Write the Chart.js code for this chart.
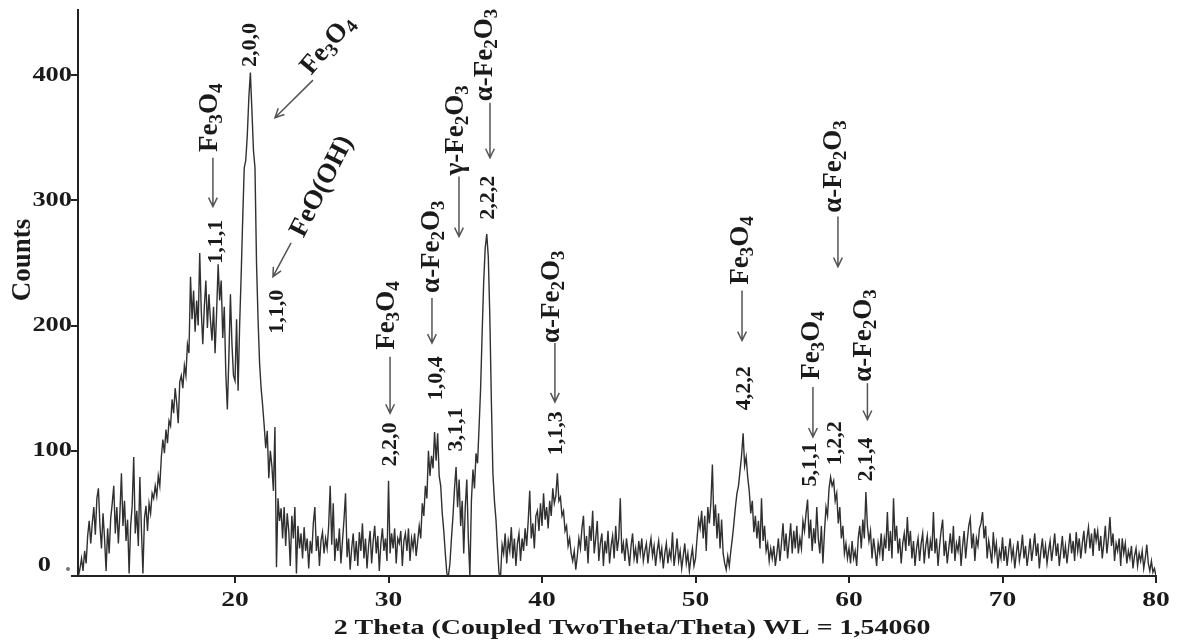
<!DOCTYPE html>
<html><head><meta charset="utf-8">
<script src="https://cdn.jsdelivr.net/npm/chart.js@4.4.1/dist/chart.umd.min.js"></script>
<style>html,body{margin:0;padding:0;background:#fff;}#wrap{width:1178px;height:643px;position:relative;}</style>
</head><body><div id="wrap"><canvas id="c"></canvas></div>
<script>
// ---- data (2θ sampled from 9.8 to 80.0, step 0.1) ----
const twoThetaStart = 9.8, twoThetaStep = 0.1;
const counts_10_15 = [0,6,14,4,20,10,32,44,26,42, 55,33,62,70,40,22,50,30,4,38, 18,46,58,72,34,55,26,50,82,40, 60,28,45,2,40,56,95,34,52,24, 79,38,2,46,56,36,58,50,66,62, 72,64];
const counts_15_20 = [80,72,95,109,98,117,106,124,120,141, 130,150,138,122,155,160,150,168,160,185, 178,239,205,228,195,220,200,258,212,185, 215,236,198,225,204,188,215,178,210,249, 220,236,190,215,162,133,175,225,185,160];
const counts_20_25 = [156,205,148,200,240,285,326,332,352,382, 402,372,340,326,250,205,170,150,136,120, 102,116,78,100,88,68,119,7,62,44, 54,30,55,24,50,36,8,48,30,55, 2,40,22,34,14,39,20,30,6,28];
const counts_25_30 = [18,42,55,20,32,8,28,35,18,30, 22,40,72,25,58,12,30,20,38,10, 28,45,66,15,30,5,22,34,12,28, 8,35,20,42,14,30,6,24,36,10, 28,40,18,32,4,26,38,20,30,12];
const counts_30_35 = [76,18,34,22,38,10,30,26,36,8, 28,34,20,38,12,30,22,34,16,28, 40,30,58,48,72,62,100,80,96,86, 115,92,114,80,72,50,36,18,2,0, 10,30,48,70,87,55,77,40,60,18];
const counts_35_40 = [55,77,30,0,60,85,70,98,90,119, 150,194,235,262,273,255,207,140,82,60, 45,22,2,0,25,18,34,10,28,20, 39,14,30,8,26,34,12,30,20,38, 24,44,68,30,42,22,48,52,36,58];
const counts_40_45 = [40,66,45,55,38,60,48,70,58,64, 82,60,63,48,52,36,40,24,30,18, 12,20,5,16,30,22,38,48,20,32, 10,40,28,52,18,30,44,12,26,34, 8,28,18,36,10,24,32,14,40,20];
const counts_45_50 = [30,62,18,26,12,30,20,8,24,34, 14,22,10,28,18,30,12,20,26,10, 22,30,16,24,8,20,28,14,22,6, 18,26,10,20,14,35,8,18,30,12, 20,6,16,26,10,18,4,14,22,8];
const counts_50_55 = [14,30,45,38,52,30,48,20,55,42, 58,89,40,57,30,50,22,45,18,10, 5,16,8,20,30,42,55,66,72,84, 96,114,88,95,79,68,50,60,35,48, 30,44,22,62,28,40,20,26,12,22];
const counts_55_60 = [14,24,8,18,30,12,26,42,20,34, 14,28,42,18,36,22,40,18,30,22, 44,36,50,61,30,45,20,38,26,55, 30,18,40,10,35,55,48,70,79,72, 76,60,66,42,55,30,40,18,26,14];
const counts_60_65 = [22,10,28,14,20,8,30,40,22,45, 30,67,40,28,36,14,30,20,8,26, 18,34,12,30,22,51,20,36,14,62, 28,40,18,30,10,26,34,20,47,24, 36,14,28,8,22,30,12,26,34,10];
const counts_65_70 = [24,32,14,28,20,51,18,30,8,24, 36,45,16,28,10,22,34,18,40,12, 26,20,32,8,24,36,14,28,40,46, 22,34,12,30,24,38,42,51,30,40, 14,28,20,10,35,18,26,6,20,14];
const counts_70_75 = [31,12,24,8,20,30,14,22,6,18, 28,12,20,33,14,24,8,18,30,12, 22,34,16,26,6,20,30,14,24,10, 20,28,12,22,34,16,26,8,20,32, 14,24,10,22,34,18,28,12,35,20];
const counts_75_80 = [30,14,26,36,18,30,39,22,34,16, 38,28,36,20,32,14,26,40,18,30, 47,24,34,12,26,20,30,8,30,18, 26,10,20,14,24,6,16,22,8,18, 12,20,6,14,25,10,4,12,3,6, 0];

const xTickValues = [20,30,40,50,60,70,80];
const yTickValues = [0,100,200,300,400];
const xTitle = '2 Theta (Coupled TwoTheta/Theta) WL = 1,54060';
const yTitle = 'Counts';

// phase labels: parts [text, isSubscript], position (2θ, counts)
const phaseLabels = [
  {parts:[['Fe'],['3',1],['O'],['4',1]], x:18.37, y:366},
  {parts:[['Fe'],['3',1],['O'],['4',1]], x:26.06, y:424, angle:-50},
  {parts:[['FeO(OH)']], x:25.67, y:311, angle:-63},
  {parts:[['Fe'],['3',1],['O'],['4',1]], x:29.9, y:208},
  {parts:[['α-Fe'],['2',1],['O'],['3',1]], x:32.83, y:263},
  {parts:[['γ-Fe'],['2',1],['O'],['3',1]], x:34.39, y:356},
  {parts:[['α-Fe'],['2',1],['O'],['3',1]], x:36.28, y:416},
  {parts:[['α-Fe'],['2',1],['O'],['3',1]], x:40.65, y:223},
  {parts:[['Fe'],['3',1],['O'],['4',1]], x:52.96, y:260},
  {parts:[['Fe'],['3',1],['O'],['4',1]], x:57.59, y:184},
  {parts:[['α-Fe'],['2',1],['O'],['3',1]], x:59.02, y:327},
  {parts:[['α-Fe'],['2',1],['O'],['3',1]], x:61.0, y:192}
];
const millerLabels = [
  ['1,1,1',18.76,267],['2,0,0',21.0,424],['1,1,0',22.73,211],['2,2,0',30.1,105],
  ['1,0,4',33.09,158],['3,1,1',34.39,117],['2,2,2',36.48,302],['1,1,3',40.91,114],
  ['4,2,2',53.16,150],['5,1,1',57.46,89],['1,2,2',59.09,106],['2,1,4',61.1,93]
];
const arrows = [
  [18.56,334,18.56,295],[25.08,396,22.6,366],[23.65,266,22.47,239],[30.1,175,30.1,130],
  [32.83,222,32.83,186],[34.59,319,34.59,271],[36.61,378,36.61,334],[40.84,186,40.84,139],
  [53.03,228,53.03,188],[57.65,151,57.65,111],[59.28,287,59.28,247],[61.2,154,61.2,125]
];

const allCounts = [].concat(counts_10_15,counts_15_20,counts_20_25,counts_25_30,counts_30_35,counts_35_40,
  counts_40_45,counts_45_50,counts_50_55,counts_55_60,counts_60_65,counts_65_70,counts_70_75,counts_75_80);
const points = allCounts.map((v,i)=>({x: Math.round((twoThetaStart + i*twoThetaStep)*10)/10, y: v}));

const SERIF = '"Liberation Serif","Times New Roman",serif';
function drawText(ctx, parts, cx, cy, angleDeg, size, sx, align, color){
  ctx.save();
  ctx.translate(cx, cy);
  ctx.scale(sx, 1);
  ctx.rotate((angleDeg||0)*Math.PI/180);
  const fm = 'bold '+size+'px '+SERIF, fs = 'bold '+Math.round(size*0.7)+'px '+SERIF;
  let w = 0;
  parts.forEach(p=>{ctx.font = p[1]?fs:fm; w += ctx.measureText(p[0]).width;});
  let x = align==='right' ? -w : -w/2;
  ctx.textBaseline = 'middle'; ctx.textAlign = 'left'; ctx.fillStyle = color||'#1a1a1a';
  parts.forEach(p=>{ctx.font = p[1]?fs:fm; ctx.fillText(p[0], x, p[1]? size*0.26 : 0); x += ctx.measureText(p[0]).width;});
  ctx.restore();
}
function drawArrow(ctx, x1,y1,x2,y2){
  const a = Math.atan2(y2-y1, x2-x1), L = 10, s = 0.45;
  ctx.beginPath();
  ctx.moveTo(x1,y1); ctx.lineTo(x2,y2);
  ctx.moveTo(x2 - L*Math.cos(a-s), y2 - L*Math.sin(a-s)); ctx.lineTo(x2,y2);
  ctx.lineTo(x2 - L*Math.cos(a+s), y2 - L*Math.sin(a+s));
  ctx.stroke();
}

const labelPlugin = {
  id:'labels',
  afterDraw(chart){
    const ctx = chart.ctx, xs = chart.scales.x, ys = chart.scales.y;
    ctx.save();
    xs.ticks.forEach(t=>{ drawText(ctx, [[String(t.value)]], xs.getPixelForValue(t.value), 600, 0, 22, 1.25, 'center'); });
    ys.ticks.forEach(t=>{
      const py = ys.getPixelForValue(t.value);
      if (t.value === 0) {
        drawText(ctx, [['0']], 51, py-11, 0, 22, 1.2, 'right');
        ctx.fillStyle='#777'; ctx.beginPath(); ctx.arc(68, py-7, 2, 0, Math.PI*2); ctx.fill();
      } else drawText(ctx, [[String(t.value)]], 72, py, 0, 22, 1.2, 'right');
    });
    drawText(ctx, [[xTitle]], 632, 628, 0, 22, 1.27, 'center');
    drawText(ctx, [[yTitle]], 23, 260, -90, 27, 1, 'center');
    phaseLabels.forEach(l=>{ drawText(ctx, l.parts, xs.getPixelForValue(l.x), ys.getPixelForValue(l.y), l.angle===undefined?-90:l.angle, 27, 1, 'center'); });
    millerLabels.forEach(m=>{ drawText(ctx, [[m[0]]], xs.getPixelForValue(m[1]), ys.getPixelForValue(m[2]), -90, 22, 1, 'center'); });
    ctx.strokeStyle = '#555'; ctx.lineWidth = 1.5;
    arrows.forEach(a=>{ drawArrow(ctx, xs.getPixelForValue(a[0]), ys.getPixelForValue(a[1]), xs.getPixelForValue(a[2]), ys.getPixelForValue(a[3])); });
    ctx.restore();
  }
};

new Chart(document.getElementById('c'), {
  type:'line',
  data:{datasets:[{data:points, borderColor:'#303030', borderWidth:1.4, pointRadius:0, tension:0, fill:false}]},
  options:{
    responsive:true, maintainAspectRatio:false, animation:false,
    layout:{padding:{left:0,right:22,top:10,bottom:0}},
    plugins:{legend:{display:false}, tooltip:{enabled:false}, title:{display:false}},
    scales:{
      x:{type:'linear', min:9.77, max:80,
         afterBuildTicks:s=>{ s.ticks = xTickValues.map(v=>({value:v})); },
         ticks:{display:false},
         grid:{drawOnChartArea:false, drawTicks:true, tickLength:7, color:'#222', lineWidth:2},
         border:{color:'#222', width:2},
         afterFit:s=>{ s.height = 67; }},
      y:{type:'linear', min:0, max:452,
         afterBuildTicks:s=>{ s.ticks = yTickValues.map(v=>({value:v})); },
         ticks:{display:false},
         grid:{drawOnChartArea:false, drawTicks:true, tickLength:7, color:'#222', lineWidth:2},
         border:{color:'#222', width:2},
         afterFit:s=>{ s.width = 78; }}
    }
  },
  plugins:[labelPlugin]
});
</script></body></html>
